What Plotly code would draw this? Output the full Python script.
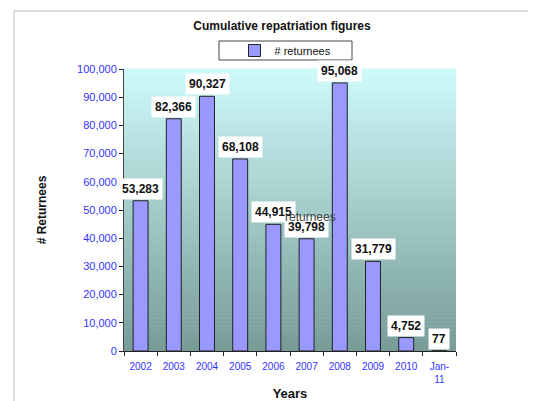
import plotly.graph_objects as go

categories = ["2002", "2003", "2004", "2005", "2006", "2007", "2008", "2009", "2010", "Jan-<br>11"]
returnees = [53283, 82366, 90327, 68108, 44915, 39798, 95068, 31779, 4752, 77]
y_ticks = list(range(0, 100001, 10000))

# page body has a default margin; figure is sized to compensate
OFFX, OFFY = 6, 8
W, H = 536 - OFFX, 401 - OFFY
PL, PR, PT, PB = 122, 454, 69, 351  # plot area in screenshot pixels
PW, PH = PR - PL, PB - PT


def px(x):
    return (x - PL) / PW


def py(y):
    return (PB - y) / PH


fig = go.Figure()
fig.add_trace(go.Bar(
    x=categories, y=returnees, name="# returnees",
    marker=dict(color="#9999ff", line=dict(color="#222222", width=1)),
    width=0.45,
))

# gradient background of plot area
n = 70
top = (206, 250, 250)
bot = (120, 156, 152)
for i in range(n):
    t = i / (n - 1)
    c = tuple(round(bot[k] + (top[k] - bot[k]) * t) for k in range(3))
    fig.add_shape(type="rect", xref="x domain", yref="y domain",
                  x0=0, x1=1, y0=i / n, y1=(i + 1) / n + 0.002,
                  fillcolor="rgb(%d,%d,%d)" % c, line=dict(width=0), layer="below")

# outer border (top and left)
fig.add_shape(type="line", xref="paper", yref="paper", x0=px(12), x1=px(560), y0=py(11), y1=py(11),
              line=dict(color="#bbbbbb", width=1))
fig.add_shape(type="line", xref="paper", yref="paper", x0=px(12), x1=px(12), y0=py(420), y1=py(11),
              line=dict(color="#bbbbbb", width=1))
# legend border
fig.add_shape(type="rect", xref="paper", yref="paper", x0=px(217), x1=px(350),
              y0=py(60), y1=py(41), line=dict(color="#444444", width=1),
              fillcolor="white", layer="below")

for i, v in enumerate(returnees):
    fig.add_annotation(x=i, y=v, text="<b>%s</b>" % format(v, ","), showarrow=False,
                       yanchor="bottom", yshift=1, bgcolor="white", borderpad=3,
                       font=dict(family="Arial", size=12, color="#111111"))

# stray series-name text
fig.add_annotation(xref="paper", yref="paper", x=px(308), y=py(217),
                   text="returnees", showarrow=False, font=dict(family="Arial", size=12, color="#444444"))

fig.update_layout(
    width=W, height=H,
    margin=dict(l=PL - OFFX, r=W - (PR - OFFX), t=PT - OFFY, b=H - (PB - OFFY), autoexpand=False),
    paper_bgcolor="white", plot_bgcolor="rgba(0,0,0,0)",
    font=dict(family="Arial"),
    title=dict(text="<b>Cumulative repatriation figures</b>", x=(280 - OFFX) / W, xanchor="center",
               y=1 - (26 - OFFY) / H, yanchor="middle", font=dict(size=12, color="#111111")),
    showlegend=True,
    legend=dict(x=px(283.5), xanchor="center", y=py(50.5), yanchor="middle",
                orientation="h", bgcolor="rgba(0,0,0,0)", borderwidth=0,
                font=dict(size=11, color="#111111")),
)
fig.update_xaxes(
    type="category", categoryorder="array", categoryarray=categories, range=[-0.5, 9.5],
    tickson="boundaries", ticks="outside", ticklen=4, tickcolor="#222222", tickangle=0,
    showline=True, linecolor="#222222", linewidth=1, showgrid=False, automargin=False,
    tickfont=dict(size=10, color="#3333ff"), ticklabelstandoff=6,
    title=dict(text="<b>Years</b>", font=dict(size=13, color="#111111"), standoff=8),
)
fig.update_yaxes(
    range=[0, 100000], tickvals=y_ticks, tickformat=",", ticks="outside", ticklen=4,
    tickcolor="#222222", showline=True, linecolor="#444444", linewidth=1, showgrid=False,
    zeroline=False, tickfont=dict(size=11, color="#3333ff"), automargin=False,
    title=dict(text="<b># Returnees</b>", font=dict(size=12, color="#111111"), standoff=27),
)

fig.write_html("out.html")
